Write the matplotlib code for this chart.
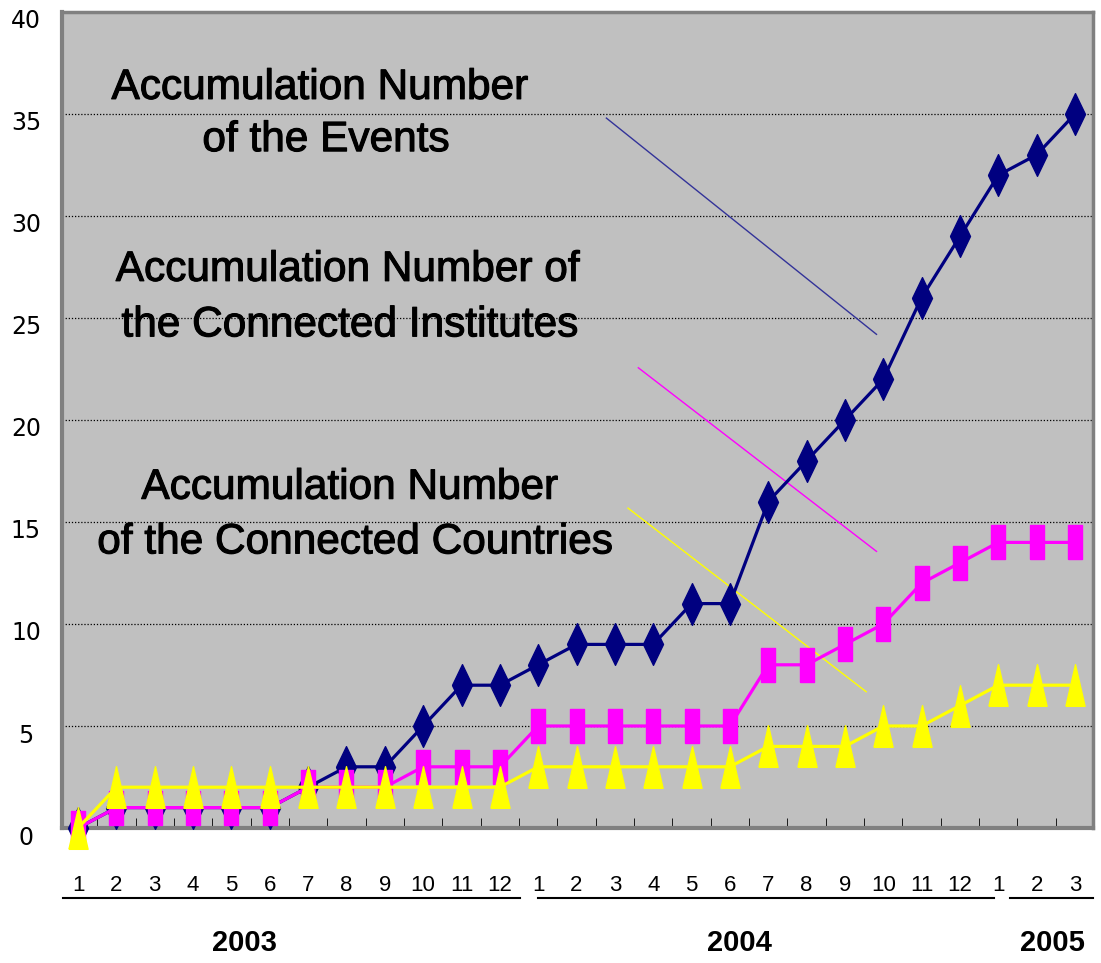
import numpy as np
import matplotlib
matplotlib.use("Agg")
import matplotlib.pyplot as plt
import matplotlib.patheffects as pe
from matplotlib.path import Path
from matplotlib.transforms import ScaledTranslation

# month labels and year groups
months = [1, 2, 3, 4, 5, 6, 7, 8, 9, 10, 11, 12,
          1, 2, 3, 4, 5, 6, 7, 8, 9, 10, 11, 12,
          1, 2, 3]
years = ["2003", "2004", "2005"]

# accumulated counts
events = [0, 1, 1, 1, 1, 1, 2, 3, 3, 5, 7, 7,
          8, 9, 9, 9, 11, 11, 16, 18, 20, 22, 26, 29,
          32, 33, 35]
institutes = [0, 1, 1, 1, 1, 1, 2, 2, 2, 3, 3, 3,
              5, 5, 5, 5, 5, 5, 8, 8, 9, 10, 12, 13,
              14, 14, 14]
countries = [0, 2, 2, 2, 2, 2, 2, 2, 2, 2, 2, 2,
             3, 3, 3, 3, 3, 3, 4, 4, 4, 5, 5, 6,
             7, 7, 7]

x = np.arange(len(months))

# tall narrow markers like the Excel ones
diamond = Path([(-0.24, 0), (0, 0.5), (0.24, 0), (0, -0.5), (-0.24, 0)])
rect = Path([(-0.2, -0.5), (0.2, -0.5), (0.2, 0.5), (-0.2, 0.5), (-0.2, -0.5)])
tri = Path([(-0.23, -0.5), (0, 0.5), (0.23, -0.5), (-0.23, -0.5)])

fig = plt.figure(figsize=(11.01, 9.63), dpi=100)
ax = fig.add_axes([62 / 1101, 135 / 963, 1031 / 1101, 816 / 963])
ax.set_facecolor("#C0C0C0")

ax.plot(x, events, color="#000080", lw=2.3, marker=diamond, ms=30, zorder=3, clip_on=False)
ax.plot(x, institutes, color="#FF00FF", lw=2.3, marker=rect, ms=25, zorder=4, clip_on=False)
ax.plot(x, countries, color="#FFFF00", lw=2.3, marker=tri, ms=30, zorder=5, clip_on=False)

ax.set_xlim(-0.42, len(months) - 1 + 0.47)
ax.set_ylim(0, 40)
ax.set_yticks(np.arange(0, 41, 5))
ax.yaxis.grid(True, color="black", linestyle=(0, (1, 1.5)), lw=0.9)
ax.set_axisbelow(True)
ax.tick_params(axis="y", length=0, pad=26, labelsize=17)
shift = ScaledTranslation(0, -7 / 100, fig.dpi_scale_trans)
for lab in ax.get_yticklabels():
    lab.set_horizontalalignment("center")
    lab.set_transform(lab.get_transform() + shift)

ax.set_xticks(x)
ax.set_xticklabels([str(m) for m in months], fontsize=16,
                   family=["Liberation Sans", "DejaVu Sans"])
ax.tick_params(axis="x", which="major", length=0, pad=34)
ax.set_xticks(x[:-1] + 0.5, minor=True)
ax.tick_params(axis="x", which="minor", direction="in", length=7, color="black")

for side in ["top", "right"]:
    ax.spines[side].set_color("#808080")
    ax.spines[side].set_linewidth(2.5)
for side in ["left", "bottom"]:
    ax.spines[side].set_color("#808080")
    ax.spines[side].set_linewidth(3)
    ax.spines[side].set_zorder(2)

# year brackets below the month labels (layout positions in category units)
bracket_start = [-0.4, 12.0, 24.3]
bracket_end = [11.53, 23.9, 26.47]
year_label_x = [4.35, 17.25, 25.4]
for name, x0, x1, lx in zip(years, bracket_start, bracket_end, year_label_x):
    ax.plot([x0, x1], [-3.45, -3.45], color="black", lw=1.5, clip_on=False)
    ax.text(lx, -5.65, name, ha="center", va="center", fontsize=21, fontweight="bold",
            family=["Liberation Sans", "DejaVu Sans"], clip_on=False)

# series annotations
thick = [pe.withStroke(linewidth=0.8, foreground="black")]
label_font = dict(fontsize=30.5, family=["Liberation Sans", "DejaVu Sans"], color="black",
                  ha="center", va="center", transform=ax.transAxes, path_effects=thick)
ax.text(0.250, 0.907, "Accumulation Number", **label_font)
ax.text(0.256, 0.843, "of the Events", **label_font)
ax.text(0.277, 0.684, "Accumulation Number of", **label_font)
ax.text(0.279, 0.616, "the Connected Institutes", **label_font)
ax.text(0.279, 0.417, "Accumulation Number", **label_font)
ax.text(0.284, 0.350, "of the Connected Countries", **label_font)

ax.plot([0.528, 0.790], [0.870, 0.605], color="#333399", lw=1, transform=ax.transAxes)
ax.plot([0.559, 0.790], [0.564, 0.339], color="#FF00FF", lw=1, transform=ax.transAxes)
ax.plot([0.549, 0.780], [0.392, 0.167], color="#FFFF00", lw=1, transform=ax.transAxes)

fig.savefig("out.png", dpi=100)
